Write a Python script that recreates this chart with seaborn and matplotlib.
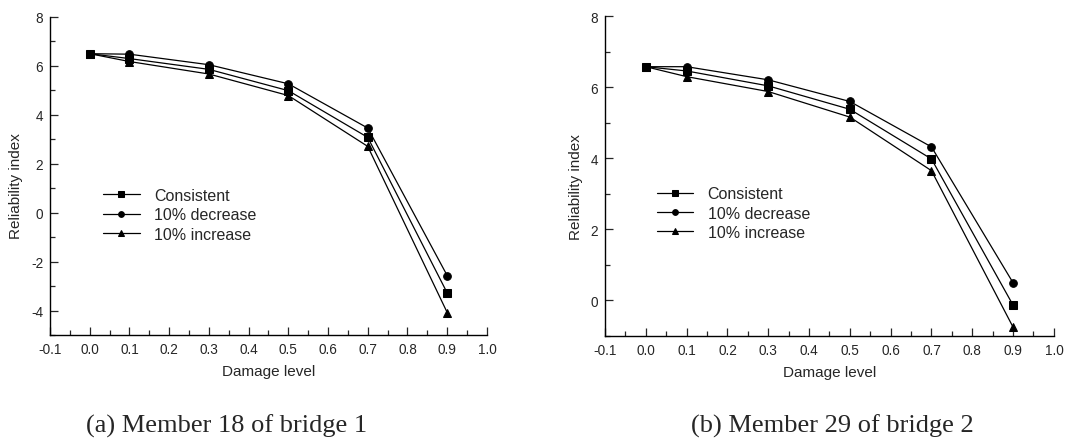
import pandas as pd
import numpy as np
import matplotlib
matplotlib.use("Agg")
import matplotlib.pyplot as plt
from matplotlib.ticker import MultipleLocator
import seaborn as sns

# Data
damage = [0.0, 0.1, 0.3, 0.5, 0.7, 0.9]
series_names = ["Consistent", "10% decrease", "10% increase"]

# (a) Member 18 of bridge 1
b1_consistent = [6.50, 6.30, 5.86, 4.99, 3.08, -3.28]
b1_decrease = [6.50, 6.48, 6.05, 5.27, 3.46, -2.57]
b1_increase = [6.50, 6.18, 5.67, 4.79, 2.71, -4.08]

# (b) Member 29 of bridge 2
b2_consistent = [6.58, 6.46, 6.04, 5.38, 3.98, -0.14]
b2_decrease = [6.58, 6.58, 6.21, 5.60, 4.32, 0.49]
b2_increase = [6.58, 6.30, 5.88, 5.16, 3.65, -0.76]

captions = ["(a) Member 18 of bridge 1", "(b) Member 29 of bridge 2"]


def to_long(cons, dec, inc):
    rows = []
    for name, vals in zip(series_names, [cons, dec, inc]):
        for d, v in zip(damage, vals):
            rows.append({"Damage level": d, "Reliability index": v, "Series": name})
    return pd.DataFrame(rows)


sns.set_style("ticks")
plt.rcParams["font.family"] = ["Liberation Sans", "DejaVu Sans"]
plt.rcParams["axes.unicode_minus"] = False

fig = plt.figure(figsize=(10.91, 4.39), dpi=100)
ax1 = fig.add_axes([0.0458, 0.2346, 0.4005, 0.7244])
ax2 = fig.add_axes([0.5545, 0.2330, 0.4115, 0.7276])

markers = {"Consistent": "s", "10% decrease": "o", "10% increase": "^"}
palette = {n: "black" for n in series_names}

panels = [
    (ax1, to_long(b1_consistent, b1_decrease, b1_increase), (-5, 8), 0.121, 0.462, -0.062),
    (ax2, to_long(b2_consistent, b2_decrease, b2_increase), (-1, 8), 0.115, 0.468, -0.049),
]

for ax, df, ylim, leg_x, leg_y, ylab_x in panels:
    sns.lineplot(
        data=df, x="Damage level", y="Reliability index",
        hue="Series", style="Series", hue_order=series_names,
        style_order=series_names, palette=palette, markers=markers,
        dashes=False, markersize=5.5, linewidth=0.9,
        markeredgecolor="black", ax=ax,
    )
    ax.set_xlim(-0.1, 1.0)
    ax.set_ylim(*ylim)
    ax.xaxis.set_major_locator(MultipleLocator(0.1))
    ax.xaxis.set_minor_locator(MultipleLocator(0.05))
    ax.yaxis.set_major_locator(MultipleLocator(2))
    ax.yaxis.set_minor_locator(MultipleLocator(1))
    ax.set_xticklabels([f"{t:.1f}" for t in ax.get_xticks()])
    ax.tick_params(which="major", direction="in", length=6, width=0.9,
                   labelsize=9.8, pad=5)
    ax.tick_params(which="minor", direction="in", length=3.5, width=0.9)
    sns.despine(ax=ax)
    for s in ["left", "bottom"]:
        ax.spines[s].set_linewidth(1.0)
        ax.spines[s].set_color("black")
    ax.set_xlabel("Damage level", fontsize=11, labelpad=6)
    ax.set_ylabel("Reliability index", fontsize=11)
    ax.yaxis.set_label_coords(ylab_x, 0.47)
    ax.legend(
        title=None, frameon=False, fontsize=11.5, loc="upper left",
        bbox_to_anchor=(leg_x, leg_y), borderaxespad=0, borderpad=0,
        handlelength=2.3, handletextpad=0.9, labelspacing=0.27,
        markerscale=0.75,
    )

fig.text(0.208, 0.015, captions[0], family="Liberation Serif", fontsize=19, ha="center")
fig.text(0.763, 0.015, captions[1], family="Liberation Serif", fontsize=19, ha="center")

fig.savefig("out.png", dpi=100)
